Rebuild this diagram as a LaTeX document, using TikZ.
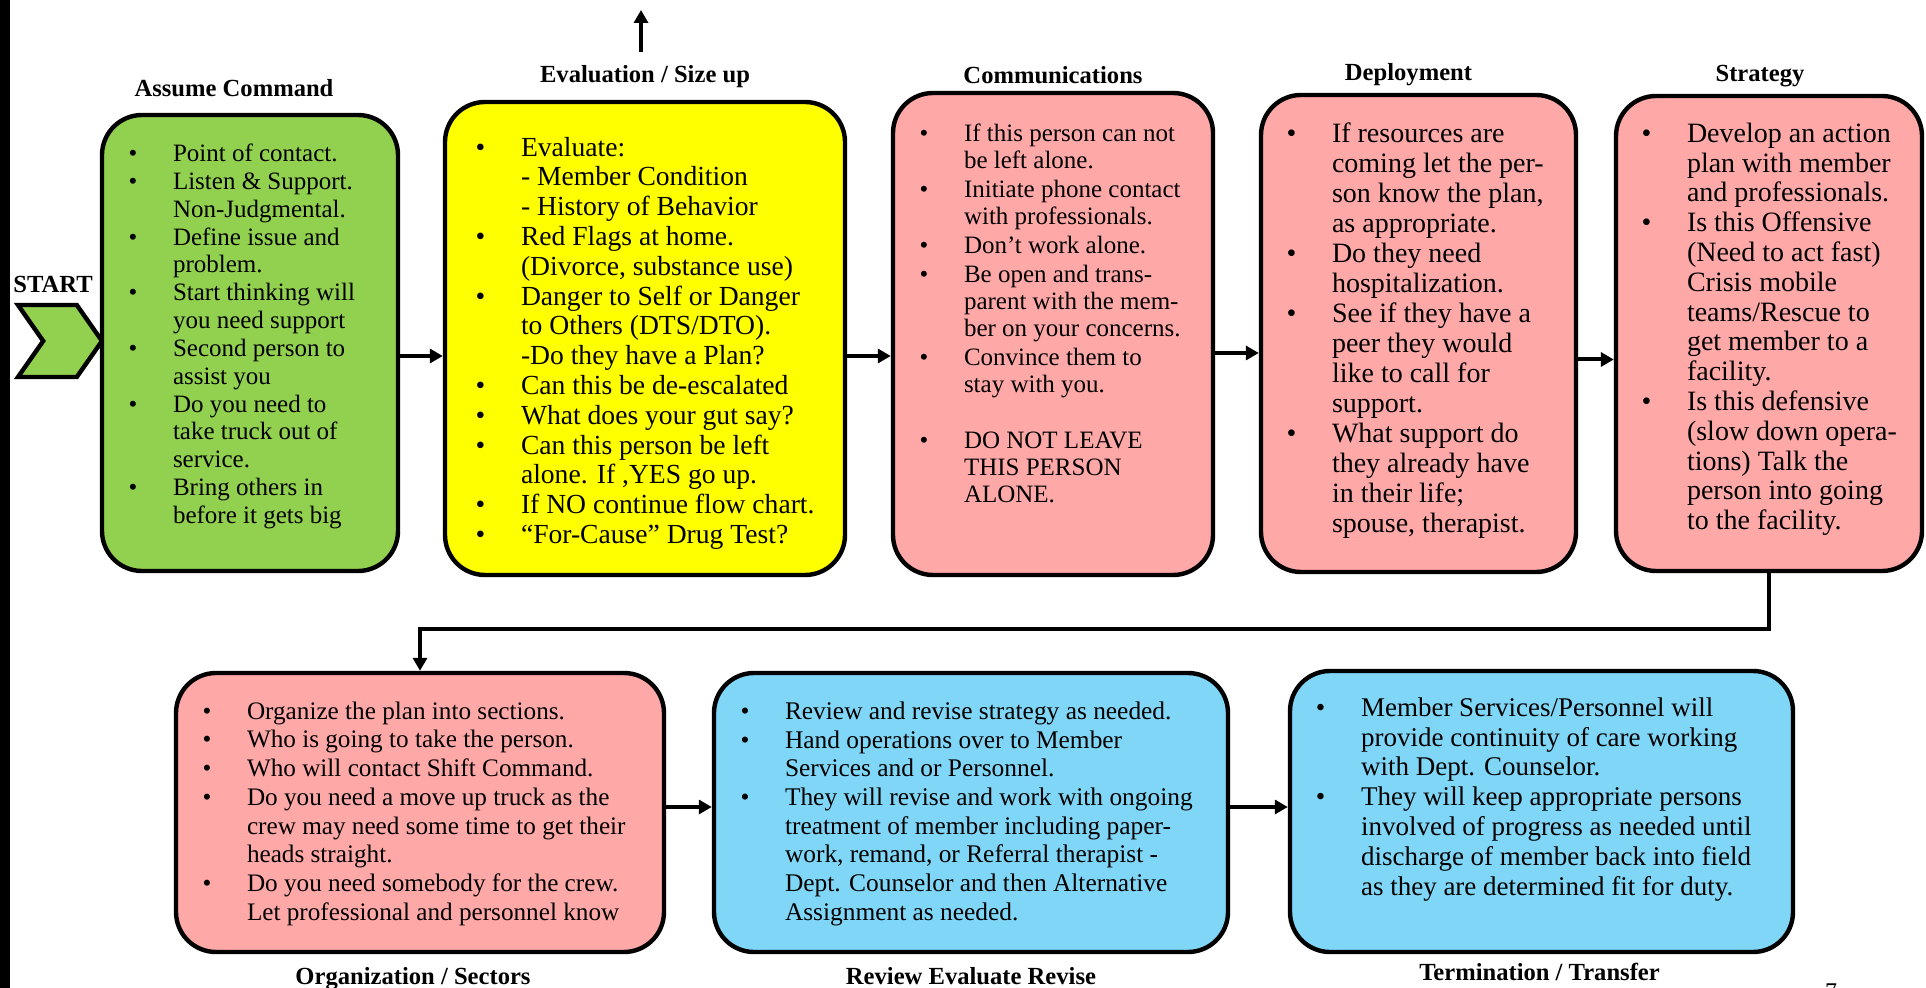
\documentclass[tikz,border=0pt]{standalone}
\usepackage{fontspec}
\setmainfont{Liberation Serif}
\usepackage{tikz}
\usetikzlibrary{arrows.meta,positioning,shapes.symbols}
\definecolor{cmdgreen}{HTML}{92D050}
\definecolor{evalyellow}{HTML}{FFFF00}
\definecolor{planpink}{HTML}{FFA8A8}
\definecolor{handblue}{HTML}{80D6F7}
\newenvironment{steplist}[1]{%
  \begin{list}{\textbullet}{%
    \setlength{\leftmargin}{\dimexpr35.5pt+#1\relax}\setlength{\labelwidth}{12pt}%
    \setlength{\labelsep}{17.8pt}\setlength{\itemsep}{0pt}%
    \setlength{\parsep}{0pt}\setlength{\topsep}{0pt}%
    \setlength{\partopsep}{0pt}\setlength{\rightmargin}{0pt}}}%
  {\end{list}}
\newcommand{\stepitems}[5][0pt]{%
  \begin{minipage}[c][#3][t]{#2}\raggedright\vspace*{#4}%
  \begin{steplist}{#1}#5\end{steplist}\end{minipage}}
\tikzset{
  flowbox/.style={draw, line width=2.2pt, rounded corners=20pt, inner sep=0pt},
  greenbox/.style={flowbox, fill=cmdgreen},
  yellowbox/.style={flowbox, fill=evalyellow},
  pinkbox/.style={flowbox, fill=planpink},
  bluebox/.style={flowbox, fill=handblue},
  steplabel/.style={font=\bfseries\fontsize{12.3}{14}\selectfont, inner sep=0pt,
    text height=8.5pt, text depth=2.5pt},
  arr/.style={-{Triangle[length=6.5pt, width=7pt]}, line width=2pt},
  startmark/.style={signal, signal to=east, signal from=west, signal pointer angle=110,
    draw, line width=2.2pt, fill=cmdgreen, minimum width=42pt, minimum height=36pt,
    inner sep=0pt}
}
\begin{document}
\begin{tikzpicture}[x=0.5pt, y=-0.5pt]
  \useasboundingbox (0,0) rectangle (1926,988);
  \fill (0,0) rectangle (10,988);

  \node[startmark] (start) at (60,341) {};
  \node[steplabel, above=2.5pt of start, xshift=-3.5pt] (startlab) {START};

  \node[greenbox, font=\fontsize{12.5}{13.9}\selectfont] (assume) at (250,343)
    {\stepitems{148pt}{228pt}{14.6pt}{%
      \item Point of contact.
      \item Listen \& Support.\\Non-Judgmental.
      \item Define issue and\\problem.
      \item Start thinking will\\you need support
      \item Second person to\\assist you
      \item Do you need to\\take truck out of\\service.
      \item Bring others in\\before it gets big}};
  \node[yellowbox, font=\fontsize{13.8}{14.9}\selectfont] (eval) at (645,338.5)
    {\stepitems[2.5pt]{200pt}{236.5pt}{17.5pt}{%
      \item Evaluate:\\- Member Condition\\- History of Behavior
      \item Red Flags at home.\\(Divorce, substance use)
      \item Danger to Self or Danger\\to Others (DTS/DTO).\\-Do they have a Plan?
      \item Can this be de-escalated
      \item What does your gut say?
      \item Can this person be left\\alone. If ,YES go up.
      \item If NO continue flow chart.
      \item “For-Cause” Drug Test?}};
  \node[pinkbox, font=\fontsize{12.5}{13.4}\selectfont] (comm) at (1053,334)
    {\stepitems{160pt}{241pt}{15.6pt}{\setlength{\itemsep}{1.2pt}%
      \item If this person can not\\be left alone.
      \item Initiate phone contact\\with professionals.
      \item Don’t work alone.
      \item Be open and trans-\\parent with the mem-\\ber on your concerns.
      \item Convince them to\\stay with you.\vspace{13.5pt}
      \item DO NOT LEAVE\\THIS PERSON\\ALONE.}};
  \node[pinkbox, font=\fontsize{14}{15}\selectfont] (deploy) at (1418.5,333.5)
    {\stepitems{157.5pt}{238.5pt}{13.8pt}{%
      \item If resources are\\coming let the per-\\son know the plan,\\as appropriate.
      \item Do they need\\hospitalization.
      \item See if they have a\\peer they would\\like to call for\\support.
      \item What support do\\they already have\\in their life;\\spouse, therapist.}};
  \node[pinkbox, font=\fontsize{14}{14.9}\selectfont] (strategy) at (1769,333.5)
    {\stepitems{153pt}{237.5pt}{13.4pt}{%
      \item Develop an action\\plan with member\\and professionals.
      \item Is this Offensive\\(Need to act fast)\\Crisis mobile\\teams/Rescue to\\get member to a\\facility.
      \item Is this defensive\\(slow down opera-\\tions) Talk the\\person into going\\to the facility.}};

  \node[pinkbox, font=\fontsize{12.6}{14.35}\selectfont] (org) at (420,812.5)
    {\stepitems{244pt}{139.5pt}{14.4pt}{%
      \item Organize the plan into sections.
      \item Who is going to take the person.
      \item Who will contact Shift Command.
      \item Do you need a move up truck as the\\crew may need some time to get their\\heads straight.
      \item Do you need somebody for the crew.\\Let professional and personnel know}};
  \node[bluebox, font=\fontsize{12.7}{14.35}\selectfont] (review) at (971,812.5)
    {\stepitems{257pt}{139.5pt}{14.4pt}{%
      \item Review and revise strategy as needed.
      \item Hand operations over to Member\\Services and or Personnel.
      \item They will revise and work with ongoing\\treatment of member including paper-\\work, remand, or Referral therapist -\\Dept. Counselor and then Alternative\\Assignment as needed.}};
  \node[bluebox, font=\fontsize{13.5}{14.9}\selectfont] (term) at (1541.5,811.5)
    {\stepitems{251.5pt}{140.5pt}{13.3pt}{%
      \item Member Services/Personnel will\\provide continuity of care working\\with Dept. Counselor.
      \item They will keep appropriate persons\\involved of progress as needed until\\discharge of member back into field\\as they are determined fit for duty.}};

  \node[steplabel, above=5.2pt of assume, xshift=-8pt] (assumelab) {Assume Command};
  \node[steplabel, above=5.8pt of eval] (evallab) {Evaluation / Size up};
  \node[steplabel, above=0.8pt of comm] (commlab) {Communications};
  \node[steplabel, above=3.2pt of deploy, xshift=-5pt] (deploylab) {Deployment};
  \node[steplabel, above=3.3pt of strategy, xshift=-4.5pt] (strategylab) {Strategy};
  \node[steplabel, below=6.5pt of org, xshift=-3.5pt] (orglab) {Organization / Sectors};
  \node[steplabel, below=6.5pt of review] (reviewlab) {Review Evaluate Revise};
  \node[steplabel, below=4.5pt of term, xshift=-1pt] (termlab) {Termination / Transfer};
  \node[font=\fontsize{12}{14}\selectfont, anchor=north, inner sep=0pt] (pagenum) at (1831,983) {7};

  \coordinate (upfoot) at (641,52);
  \coordinate (uptip) at (641,10);
  \draw[arr] (upfoot) -- (uptip);
  \draw[arr] ([yshift=-6.5pt]assume.east) -- ([yshift=-6.5pt]assume.east -| eval.west);
  \draw[arr] ([yshift=-8.75pt]eval.east) -- ([yshift=-8.75pt]eval.east -| comm.west);
  \draw[arr] ([yshift=-9.5pt]comm.east) -- ([yshift=-9.5pt]comm.east -| deploy.west);
  \draw[arr] ([yshift=-13pt]deploy.east) -- ([yshift=-13pt]deploy.east -| strategy.west);
  \draw[arr] (strategy.south) -- ++(0,56) -| (org.north);
  \draw[arr] ([yshift=2.75pt]org.east) -- ([yshift=2.75pt]org.east -| review.west);
  \draw[arr] ([yshift=2.75pt]review.east) -- ([yshift=2.75pt]review.east -| term.west);
\end{tikzpicture}
\end{document}
